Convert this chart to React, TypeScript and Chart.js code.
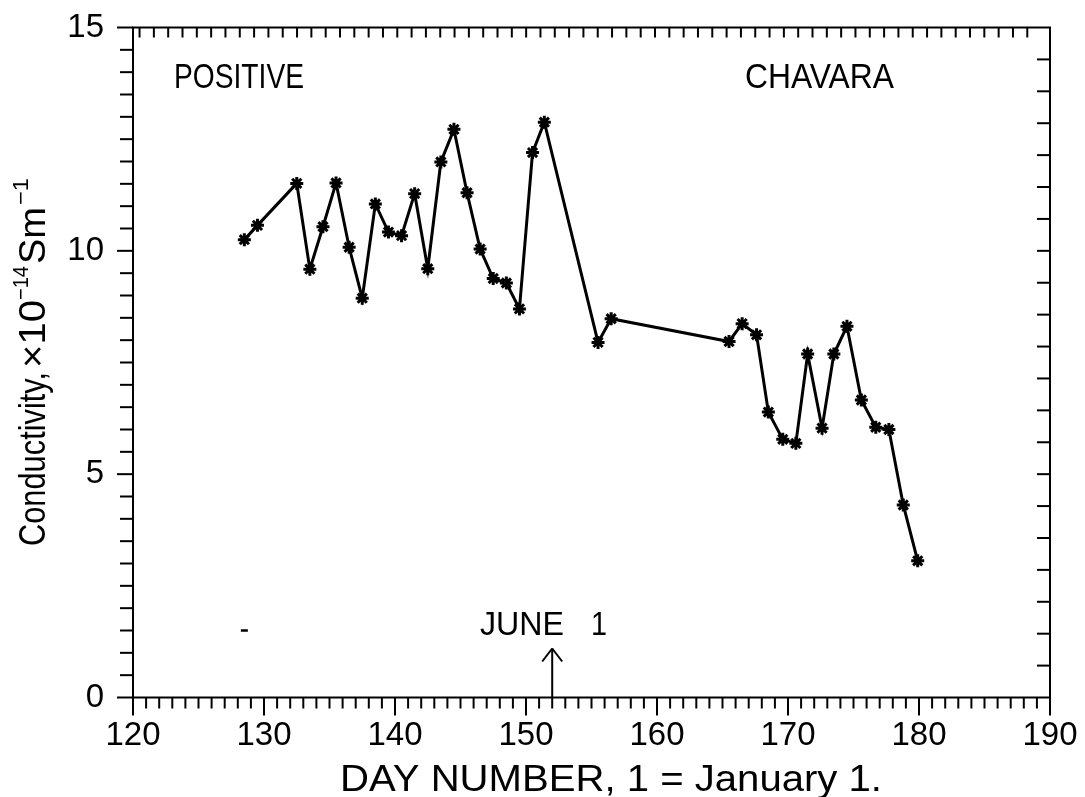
import React, { useEffect, useRef } from "react";
import { Chart, registerables } from "chart.js";

Chart.register(...registerables);

// Day of year (1 = January 1) for each positive-conductivity reading
const days = [
  128.5, 129.5, 132.5, 133.5, 134.5, 135.5, 136.5, 137.5, 138.5, 139.5, 140.5,
  141.5, 142.5, 143.5, 144.5, 145.5, 146.5, 147.5, 148.5, 149.5, 150.5, 151.4,
  155.5, 156.5, 165.5, 166.5, 167.6, 168.5, 169.6, 170.6, 171.5, 172.6, 173.5,
  174.5, 175.6, 176.7, 177.7, 178.8, 179.9,
];

// Positive polar conductivity, x10^-14 S/m
const conductivity = [
  10.25, 10.57, 11.51, 9.59, 10.54, 11.52, 10.08, 8.94, 11.05, 10.42, 10.34,
  11.28, 9.6, 11.99, 12.72, 11.3, 10.04, 9.38, 9.28, 8.7, 12.2, 12.88,
  7.95, 8.48, 7.97, 8.37, 8.12, 6.39, 5.78, 5.69, 7.69, 6.03, 7.69,
  8.31, 6.66, 6.05, 6.0, 4.31, 3.06,
];

// A lone short dash near the start of the record
const loneDay = [128.5];
const loneValue = [1.5];

const xTickLabels = [120, 130, 140, 150, 160, 170, 180, 190];
const yTickLabels = [0, 5, 10, 15];

const JUNE_1 = 152;

// The top and right frame edges carry their own, coarser tick combs
const TOP_TICK_START = 120.5;
const TOP_TICK_STEP = 1.093;
const TOP_TICK_END = 188.4;
const RIGHT_TICK_STEP = 15 / 21;

const FONT = "'Liberation Sans', Arial, sans-serif";

function fitText(
  ctx: CanvasRenderingContext2D,
  text: string,
  x: number,
  y: number,
  size: number,
  width: number
) {
  ctx.save();
  ctx.font = `${size}px ${FONT}`;
  const w = ctx.measureText(text).width;
  ctx.translate(x, y);
  ctx.scale(width / w, 1);
  ctx.textAlign = "left";
  ctx.textBaseline = "alphabetic";
  ctx.fillStyle = "#000";
  ctx.fillText(text, 0, 0);
  ctx.restore();
}

const framePlugin = {
  id: "frameAndNotes",
  afterDraw(chart: any) {
    const { ctx, chartArea } = chart;
    const { left, right, top, bottom } = chartArea;
    const xs = chart.scales.x;
    const ys = chart.scales.y;

    ctx.save();
    ctx.strokeStyle = "#000";
    ctx.lineWidth = 2;
    ctx.lineCap = "butt";
    ctx.strokeRect(left, top, right - left, bottom - top);

    const line = (x1: number, y1: number, x2: number, y2: number) => {
      ctx.beginPath();
      ctx.moveTo(x1, y1);
      ctx.lineTo(x2, y2);
      ctx.stroke();
    };

    // day ticks, outward along the bottom
    for (let d = 120; d <= 190; d++) {
      const px = xs.getPixelForValue(d);
      line(px, bottom, px, bottom + (d % 10 === 0 ? 18 : 11));
    }
    // inward comb along the top edge
    for (let d = TOP_TICK_START; d <= TOP_TICK_END; d += TOP_TICK_STEP) {
      const px = xs.getPixelForValue(d);
      line(px, top, px, top + 10);
    }
    // conductivity ticks, outward on the left
    for (let v = 0; v <= 15; v += 0.5) {
      const py = ys.getPixelForValue(v);
      line(left, py, left - (v % 5 === 0 ? 16 : 13), py);
    }
    // inward comb on the right edge
    for (let k = 1; k < 21; k++) {
      const py = ys.getPixelForValue(15 - k * RIGHT_TICK_STEP);
      line(right, py, right - 13, py);
    }

    // June 1 marker
    const ax = xs.getPixelForValue(JUNE_1);
    const tipY = bottom - 49;
    line(ax, bottom, ax, tipY);
    line(ax, tipY, ax - 10, tipY + 13);
    line(ax, tipY, ax + 10, tipY + 13);
    ctx.restore();

    fitText(ctx, "JUNE", 480, 635, 33, 84);
    fitText(ctx, "1", 591, 635, 33, 16);

    fitText(ctx, "POSITIVE", 174, 88, 35, 130);
    fitText(ctx, "CHAVARA", 745, 88, 35, 149);

    fitText(ctx, "DAY NUMBER, 1 = January 1.", 340, 791, 36, 542);

    // rotated axis title with superscript exponents
    ctx.save();
    ctx.translate(45, 546);
    ctx.rotate(-Math.PI / 2);
    fitText(ctx, "Conductivity,", 0, 0, 37, 174);
    fitText(ctx, "×10", 178, 0, 37, 68);
    fitText(ctx, "−14", 246, -17, 22, 34);
    fitText(ctx, "Sm", 282, 0, 37, 57);
    fitText(ctx, "−1", 341, -17, 22, 27);
    ctx.restore();
  },
};

export default function App() {
  const canvasRef = useRef<HTMLCanvasElement | null>(null);

  useEffect(() => {
    const canvas = canvasRef.current;
    if (!canvas) return;

    const chart = new Chart(canvas, {
      type: "line",
      data: {
        datasets: [
          {
            data: days.map((d, i) => ({ x: d, y: conductivity[i] })),
            borderColor: "#000",
            borderWidth: 3,
            pointStyle: "star",
            pointRadius: 6.5,
            pointBorderWidth: 3,
            pointBorderColor: "#000",
            pointBackgroundColor: "#000",
            tension: 0,
            fill: false,
          },
          {
            data: loneDay.map((d, i) => ({ x: d, y: loneValue[i] })),
            showLine: false,
            pointStyle: "line",
            pointRadius: 3.5,
            pointBorderWidth: 2.5,
            pointBorderColor: "#000",
            borderColor: "#000",
          },
        ],
      },
      options: {
        animation: false,
        responsive: false,
        maintainAspectRatio: false,
        layout: { padding: { top: 27.5, right: 35, left: 0, bottom: 0 } },
        plugins: {
          legend: { display: false },
          tooltip: { enabled: false },
        },
        scales: {
          x: {
            type: "linear",
            min: 120,
            max: 190,
            afterBuildTicks: (s: any) => {
              s.ticks = xTickLabels.map((v) => ({ value: v }));
            },
            afterFit: (s: any) => {
              s.height = 99.5;
              s.paddingLeft = 0;
              s.paddingRight = 0;
            },
            ticks: {
              font: { family: FONT, size: 33 },
              color: "#000",
              padding: 19,
              maxRotation: 0,
              autoSkip: false,
            },
            grid: { display: false, drawTicks: false },
            border: { display: false },
          },
          y: {
            type: "linear",
            min: 0,
            max: 15,
            afterBuildTicks: (s: any) => {
              s.ticks = yTickLabels.map((v) => ({ value: v }));
            },
            afterFit: (s: any) => {
              s.width = 133;
              s.paddingTop = 0;
              s.paddingBottom = 0;
            },
            ticks: {
              font: { family: FONT, size: 33 },
              color: "#000",
              padding: 29,
              autoSkip: false,
            },
            grid: { display: false, drawTicks: false },
            border: { display: false },
          },
        },
      },
      plugins: [framePlugin],
    });

    return () => chart.destroy();
  }, []);

  return (
    <div
      style={{
        position: "fixed",
        left: 0,
        top: 0,
        width: 1085,
        height: 797,
        background: "#fff",
      }}
    >
      <canvas ref={canvasRef} width={1085} height={797} />
    </div>
  );
}
